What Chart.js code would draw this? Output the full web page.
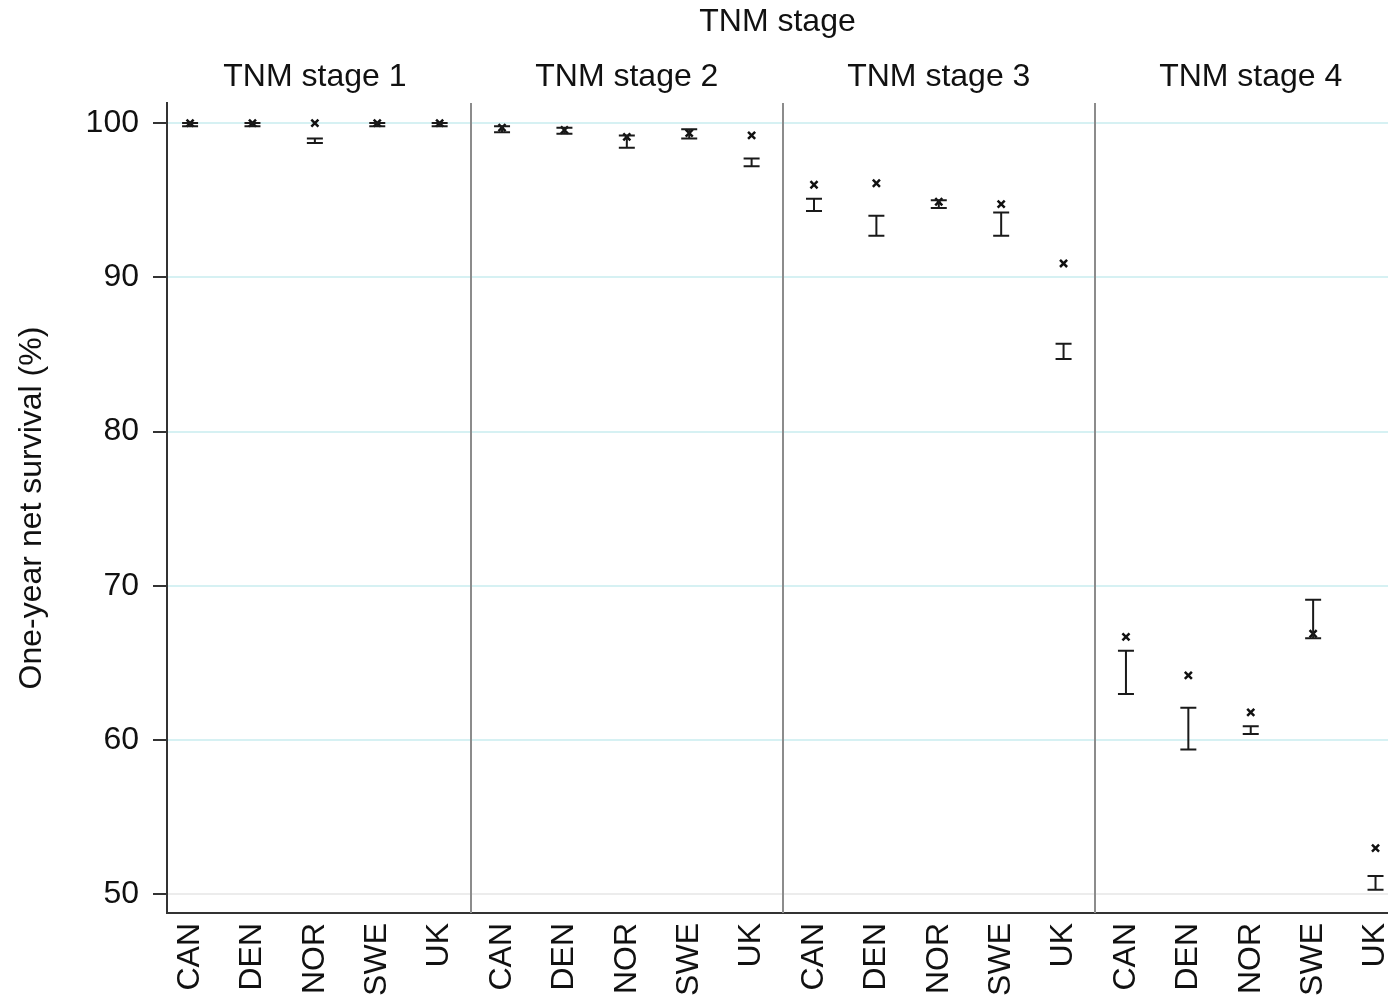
<!DOCTYPE html>
<html>
<head>
<meta charset="utf-8">
<script src="https://cdn.jsdelivr.net/npm/chart.js@4"></script>
<style>
  html, body { margin: 0; padding: 0; background: #fff; }
  #wrap { width: 1388px; height: 995px; }
</style>
</head>
<body>
<div id="wrap"><canvas id="survivalChart"></canvas></div>
<script>
// Categories
const countries = ['CAN', 'DEN', 'NOR', 'SWE', 'UK'];
const stages = ['TNM stage 1', 'TNM stage 2', 'TNM stage 3', 'TNM stage 4'];
const yTicks = [50, 60, 70, 80, 90, 100];

// One-year net survival (%) per stage, in country order
const pointStage1 = [100.0, 100.0, 100.0, 100.0, 100.0];
const pointStage2 = [99.7, 99.55, 99.1, 99.35, 99.2];
const pointStage3 = [96.0, 96.1, 94.9, 94.75, 90.9];
const pointStage4 = [66.7, 64.2, 61.8, 66.9, 53.0];

// Confidence intervals (lower / upper)
const lowStage1 = [99.8, 99.8, 98.7, 99.8, 99.8];
const highStage1 = [100.0, 100.0, 99.0, 100.0, 100.0];
const lowStage2 = [99.4, 99.3, 98.4, 99.0, 97.2];
const highStage2 = [99.8, 99.7, 99.2, 99.6, 97.7];
const lowStage3 = [94.3, 92.7, 94.5, 92.7, 84.7];
const highStage3 = [95.1, 94.0, 95.0, 94.2, 85.7];
const lowStage4 = [63.0, 59.4, 60.4, 66.6, 50.3];
const highStage4 = [65.8, 62.1, 60.9, 69.1, 51.2];

const pointEst = [...pointStage1, ...pointStage2, ...pointStage3, ...pointStage4];
const ciLow = [...lowStage1, ...lowStage2, ...lowStage3, ...lowStage4];
const ciHigh = [...highStage1, ...highStage2, ...highStage3, ...highStage4];

const FONT = "'Liberation Sans', Arial, Helvetica, sans-serif";

// error bars + panel dividers
const errorBars = {
    id: 'errorBars',
    beforeDatasetsDraw(chart) {
        const { ctx, chartArea, scales: { x } } = chart;
        ctx.save();
        ctx.strokeStyle = '#8c8c8c';
        ctx.lineWidth = 2;
        for (let s = 1; s < stages.length; s++) {
            const px = Math.round(x.getPixelForValue(s * countries.length - 0.5));
            ctx.beginPath();
            ctx.moveTo(px, chartArea.top);
            ctx.lineTo(px, chartArea.bottom);
            ctx.stroke();
        }
        ctx.restore();
    },
    afterDatasetsDraw(chart) {
        const { ctx, scales: { x, y } } = chart;
        ctx.save();
        ctx.strokeStyle = '#1a1a1a';
        ctx.lineWidth = 2;
        ciLow.forEach((lo, i) => {
            const px = x.getPixelForValue(i);
            const y1 = y.getPixelForValue(lo);
            const y2 = y.getPixelForValue(ciHigh[i]);
            ctx.beginPath();
            ctx.moveTo(px, y1); ctx.lineTo(px, y2);
            ctx.moveTo(px - 8, y1); ctx.lineTo(px + 8, y1);
            ctx.moveTo(px - 8, y2); ctx.lineTo(px + 8, y2);
            ctx.stroke();
        });
        ctx.restore();
    }
};

const ctx = document.getElementById('survivalChart').getContext('2d');
new Chart(ctx, {
    type: 'scatter',
    data: {
        datasets: [{
            data: pointEst.map((v, i) => ({ x: i, y: v })),
            pointStyle: 'crossRot',
            pointRadius: 5,
            pointHoverRadius: 5,
            borderColor: '#111',
            backgroundColor: '#111',
            borderWidth: 2.5,
            clip: false
        }]
    },
    options: {
        responsive: true,
        maintainAspectRatio: false,
        animation: false,
        layout: { padding: 0, autoPadding: false },
        plugins: {
            legend: { display: false },
            tooltip: { enabled: false }
        },
        scales: {
            x: {
                type: 'linear',
                min: -0.37,
                max: 19.2,
                afterBuildTicks: (scale) => {
                    scale.ticks = pointEst.map((v, i) => ({ value: i }));
                },
                afterFit: (scale) => {
                    scale.height = 82;
                    scale.paddingLeft = 0;
                    scale.paddingRight = 0;
                },
                ticks: {
                    autoSkip: false,
                    minRotation: 90,
                    maxRotation: 90,
                    padding: 10,
                    color: '#111',
                    font: { family: FONT, size: 32 },
                    callback: (value) => countries[value % countries.length]
                },
                grid: { display: false, drawTicks: false },
                border: { display: true, color: '#333', width: 2 }
            },
            x2: {
                type: 'linear',
                position: 'top',
                min: -0.37,
                max: 19.2,
                afterBuildTicks: (scale) => {
                    scale.ticks = stages.map((s, i) => ({ value: i * countries.length + 2 }));
                },
                afterFit: (scale) => {
                    scale.height = 103;
                    scale.paddingLeft = 0;
                    scale.paddingRight = 0;
                },
                ticks: {
                    autoSkip: false,
                    maxRotation: 0,
                    padding: 7,
                    color: '#111',
                    font: { family: FONT, size: 32 },
                    callback: (value) => stages[Math.round((value - 2) / countries.length)]
                },
                title: {
                    display: true,
                    text: 'TNM stage',
                    color: '#111',
                    font: { family: FONT, size: 32 },
                    padding: { top: 3, bottom: 0 }
                },
                grid: { display: false, drawTicks: false },
                border: { display: false }
            },
            y: {
                min: 48.8,
                max: 101.3,
                afterBuildTicks: (scale) => {
                    scale.ticks = yTicks.map(v => ({ value: v }));
                },
                afterFit: (scale) => { scale.width = 167; },
                ticks: {
                    padding: 14,
                    color: '#111',
                    font: { family: FONT, size: 32 }
                },
                title: {
                    display: true,
                    text: 'One-year net survival (%)',
                    color: '#111',
                    font: { family: FONT, size: 32 },
                    padding: { top: 13, bottom: 0 }
                },
                grid: {
                    color: (c) => c.tick && c.tick.value === 50 ? '#ececec' : '#d6f1f3',
                    lineWidth: 2,
                    tickLength: 14,
                    tickColor: '#333',
                    tickWidth: 2
                },
                border: { display: true, color: '#333', width: 2 }
            }
        }
    },
    plugins: [errorBars]
});
</script>
</body>
</html>
